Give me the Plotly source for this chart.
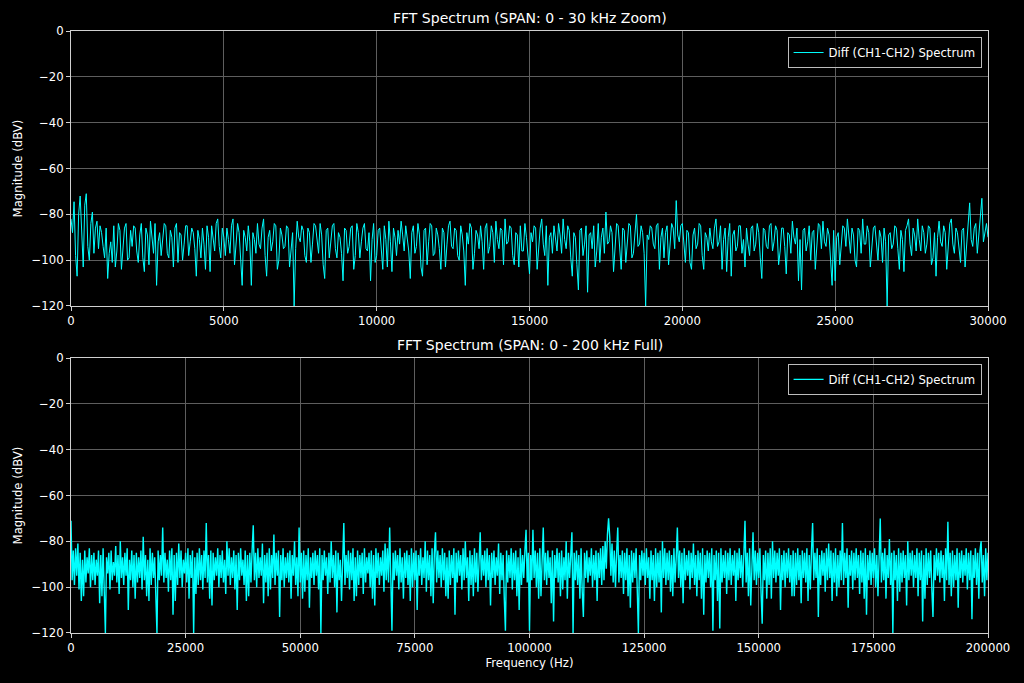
import plotly.graph_objects as go
from plotly.subplots import make_subplots

# ---------------- data ----------------
zoom_step_hz = 50
zoom_db = [
    -82, -88, -74.5, -98, -107, -80, -72, -90, -103, -76, -71, -94, -100, -84, -79, -97, -86, -83, -95, -85,
    -88, -94, -99, -86, -108, -97, -92, -101, -85, -103, -96, -84, -87, -104, -93, -86, -84, -100, -99, -87,
    -94, -85, -86, -96, -101, -89, -84, -99, -105, -86, -89, -102, -83, -90, -97, -84, -111, -92, -88, -98,
    -92, -84, -85, -97, -99, -87, -90, -103, -86, -84, -101, -88, -89, -100, -93, -85, -85, -98, -92, -86,
    -88, -95, -107, -87, -91, -99, -86, -93, -104, -85, -90, -105, -85, -92, -96, -84, -82, -94, -99, -86,
    -90, -98, -86, -91, -97, -85, -82, -102, -93, -84, -88, -100, -111, -87, -90, -96, -85, -92, -111, -88,
    -91, -97, -84, -93, -95, -86, -82, -98, -107, -90, -87, -96, -92, -84, -85, -104, -100, -86, -89, -95,
    -94, -85, -86, -103, -96, -88, -120, -95, -83, -90, -92, -85, -87, -98, -101, -86, -88, -101, -93, -84,
    -85, -92, -97, -84, -89, -102, -108, -87, -86, -99, -93, -85, -84, -95, -99, -88, -90, -97, -109, -86,
    -87, -97, -94, -86, -85, -104, -98, -84, -88, -99, -92, -86, -84, -95, -96, -88, -109, -91, -84, -101,
    -98, -87, -86, -94, -104, -85, -91, -103, -83, -92, -105, -86, -90, -98, -87, -93, -83, -89, -96, -85,
    -90, -96, -108, -88, -85, -97, -94, -84, -89, -103, -107, -87, -86, -102, -92, -84, -85, -98, -97, -86,
    -89, -95, -104, -86, -88, -103, -93, -85, -83, -94, -95, -86, -87, -98, -100, -85, -89, -96, -111, -88,
    -93, -84, -86, -104, -97, -87, -89, -95, -85, -92, -104, -86, -84, -97, -94, -85, -88, -101, -83, -91,
    -95, -86, -87, -102, -82, -93, -92, -85, -86, -98, -102, -88, -89, -103, -85, -96, -96, -84, -90, -97,
    -106, -88, -92, -85, -86, -104, -94, -86, -82, -93, -98, -85, -111, -90, -88, -97, -85, -92, -96, -84,
    -89, -97, -82, -91, -95, -85, -87, -99, -107, -88, -90, -102, -113, -87, -86, -98, -93, -85, -114, -89,
    -88, -95, -85, -103, -96, -84, -101, -90, -86, -97, -79, -93, -92, -85, -88, -105, -94, -84, -85, -96,
    -104, -86, -87, -101, -92, -84, -85, -99, -97, -88, -80, -94, -93, -85, -88, -97, -120, -89, -91, -85,
    -86, -93, -95, -85, -84, -104, -90, -86, -99, -88, -85, -102, -91, -84, -86, -95, -74, -89, -92, -85,
    -84, -93, -101, -87, -88, -101, -104, -89, -86, -95, -93, -84, -85, -98, -104, -88, -90, -96, -86, -92,
    -95, -86, -82, -94, -92, -85, -104, -91, -86, -105, -90, -84, -107, -89, -87, -96, -94, -85, -85, -97,
    -91, -103, -86, -93, -98, -86, -85, -96, -93, -84, -88, -99, -108, -86, -87, -94, -95, -85, -84, -96,
    -92, -85, -87, -102, -96, -86, -86, -94, -106, -88, -89, -97, -83, -90, -93, -86, -109, -91, -113, -87,
    -86, -96, -92, -85, -100, -88, -87, -104, -91, -84, -85, -95, -83, -92, -94, -86, -89, -98, -111, -87,
    -109, -90, -88, -102, -95, -85, -86, -94, -82, -91, -97, -86, -89, -100, -103, -86, -87, -97, -82, -93,
    -93, -85, -88, -103, -96, -86, -85, -94, -100, -87, -90, -101, -86, -92, -120, -89, -88, -95, -93, -85,
    -86, -95, -104, -87, -91, -105, -87, -85, -82, -93, -98, -86, -89, -96, -82, -91, -96, -85, -88, -97,
    -93, -85, -86, -102, -99, -88, -107, -90, -83, -92, -94, -85, -88, -104, -91, -84, -82, -93, -97, -86,
    -88, -95, -101, -87, -86, -103, -92, -84, -75, -91, -94, -86, -84, -97, -90, -83, -73, -92, -88, -84,
    -90,
]

full_step_hz = 250
full_db = [
    -71, -97, -84, -99, -83, -95, -81, -101, -85, -106, -88, -104, -84, -98, -87, -94, -83, -100, -86, -97,
    -85, -99, -88, -95, -84, -107, -86, -104, -83, -98, -120, -87, -94, -85, -101, -84, -97, -89, -95, -82,
    -98, -86, -103, -80, -96, -87, -99, -85, -95, -83, -110, -88, -97, -84, -100, -86, -105, -85, -98, -87,
    -96, -84, -101, -78, -97, -86, -104, -88, -106, -83, -99, -85, -96, -87, -100, -120, -84, -97, -86, -95,
    -74, -98, -85, -96, -88, -102, -84, -97, -83, -112, -86, -106, -85, -99, -81, -96, -84, -100, -88, -94,
    -85, -98, -83, -105, -86, -96, -84, -120, -87, -103, -85, -99, -83, -97, -86, -101, -84, -96, -72, -98,
    -86, -105, -84, -108, -85, -97, -87, -95, -83, -100, -86, -96, -84, -98, -88, -103, -80, -95, -83, -99,
    -87, -96, -84, -101, -86, -110, -85, -97, -83, -95, -88, -99, -84, -106, -86, -104, -85, -98, -84, -73,
    -97, -85, -100, -83, -96, -87, -95, -81, -107, -86, -98, -85, -104, -83, -101, -86, -96, -77, -99, -85,
    -95, -84, -113, -86, -97, -83, -100, -87, -96, -85, -98, -84, -105, -86, -95, -80, -99, -87, -104, -74,
    -98, -85, -105, -84, -102, -86, -97, -83, -109, -87, -96, -85, -99, -84, -95, -86, -101, -83, -120, -86,
    -97, -84, -95, -87, -103, -85, -98, -80, -96, -86, -100, -84, -111, -85, -97, -88, -106, -83, -72, -99,
    -86, -96, -84, -101, -85, -97, -83, -106, -87, -104, -84, -99, -86, -96, -85, -103, -83, -98, -87, -94,
    -85, -100, -84, -105, -86, -108, -83, -96, -85, -99, -87, -95, -84, -102, -81, -97, -83, -98, -74, -96,
    -119, -85, -97, -84, -95, -86, -101, -83, -98, -87, -105, -85, -96, -84, -99, -86, -106, -83, -100, -85,
    -97, -84, -110, -86, -95, -83, -99, -87, -96, -80, -102, -84, -97, -86, -104, -83, -107, -85, -76, -98,
    -84, -96, -86, -100, -83, -97, -85, -104, -87, -105, -84, -99, -86, -96, -83, -112, -85, -98, -84, -95,
    -86, -101, -83, -97, -80, -96, -87, -106, -84, -99, -86, -104, -83, -98, -85, -102, -84, -76, -97, -86,
    -95, -84, -100, -83, -97, -86, -108, -85, -96, -84, -99, -87, -95, -81, -103, -85, -97, -86, -105, -119,
    -84, -98, -86, -96, -83, -101, -85, -97, -84, -104, -87, -110, -83, -99, -86, -96, -84, -75, -98, -85,
    -119, -86, -97, -75, -96, -84, -100, -85, -105, -83, -104, -86, -74, -97, -85, -99, -84, -96, -87, -107,
    -84, -115, -86, -96, -83, -98, -85, -104, -84, -101, -87, -97, -80, -105, -85, -96, -86, -76, -120, -85,
    -97, -84, -99, -86, -105, -83, -102, -113, -85, -96, -84, -98, -87, -95, -83, -100, -86, -97, -84, -106,
    -85, -96, -83, -99, -82, -97, -80, -92, -77, -70, -78, -95, -81, -98, -84, -100, -85, -74, -98, -86,
    -96, -84, -103, -85, -97, -83, -104, -86, -109, -84, -98, -85, -96, -83, -101, -120, -86, -97, -84, -95,
    -85, -99, -83, -96, -87, -105, -84, -97, -86, -106, -83, -100, -85, -98, -84, -111, -80, -96, -83, -99,
    -85, -97, -84, -102, -86, -104, -83, -98, -87, -74, -96, -84, -100, -85, -107, -83, -97, -86, -95, -84,
    -101, -85, -96, -81, -99, -86, -104, -84, -97, -85, -105, -83, -112, -86, -98, -84, -96, -85, -100, -83,
    -119, -86, -97, -84, -106, -85, -118, -83, -98, -86, -96, -84, -103, -85, -97, -83, -99, -86, -95, -84,
    -106, -85, -97, -83, -96, -86, -100, -84, -71, -98, -85, -104, -83, -108, -86, -76, -97, -84, -99, -85,
    -96, -83, -102, -116, -86, -97, -84, -105, -85, -99, -83, -105, -80, -96, -84, -98, -85, -95, -83, -110,
    -86, -97, -84, -100, -85, -96, -83, -98, -86, -104, -84, -104, -85, -99, -83, -97, -86, -107, -84, -96,
    -85, -98, -83, -106, -86, -101, -84, -72, -97, -85, -96, -83, -113, -86, -99, -84, -95, -85, -102, -83,
    -97, -81, -96, -84, -106, -85, -98, -83, -104, -86, -100, -84, -97, -72, -99, -85, -96, -83, -109, -86,
    -95, -84, -101, -85, -97, -83, -96, -86, -103, -84, -98, -85, -105, -83, -112, -86, -97, -84, -99, -85,
    -96, -83, -100, -86, -104, -84, -70, -98, -85, -97, -83, -105, -86, -96, -79, -99, -85, -120, -84, -97,
    -86, -106, -83, -102, -85, -98, -84, -96, -86, -108, -80, -97, -85, -95, -84, -100, -86, -96, -83, -104,
    -85, -97, -84, -115, -86, -105, -83, -99, -85, -96, -84, -101, -113, -86, -97, -83, -95, -85, -98, -84,
    -96, -86, -106, -83, -97, -71.5, -99, -85, -104, -84, -100, -86, -97, -83, -109, -85, -96, -84, -98, -86,
    -95, -83, -101, -85, -97, -84, -114, -86, -96, -83, -99, -85, -105, -84, -80, -98, -86, -104, -83, -97,
    -85,
]

zoom_freq = [i * zoom_step_hz for i in range(len(zoom_db))]
full_freq = [i * full_step_hz for i in range(len(full_db))]

titles = ["FFT Spectrum (SPAN: 0 - 30 kHz Zoom)", "FFT Spectrum (SPAN: 0 - 200 kHz Full)"]
series_name = "Diff (CH1-CH2) Spectrum"
y_ticks = [0, -20, -40, -60, -80, -100, -120]
zoom_x_ticks = [0, 5000, 10000, 15000, 20000, 25000, 30000]
full_x_ticks = [0, 25000, 50000, 75000, 100000, 125000, 150000, 175000, 200000]

# ---------------- figure ----------------
CYAN = "#00ffff"
FG = "#ffffff"
GRID = "#5e5e5e"
FONT = "DejaVu Sans"
FS = 11.7

fig = make_subplots(rows=2, cols=1, vertical_spacing=0.0864)

fig.add_trace(go.Scatter(x=zoom_freq, y=zoom_db, mode="lines", name=series_name,
                         line=dict(color=CYAN, width=1), legend="legend"), row=1, col=1)
fig.add_trace(go.Scatter(x=full_freq, y=full_db, mode="lines", name=series_name,
                         line=dict(color=CYAN, width=1.4), legend="legend2"), row=2, col=1)

axis_common = dict(showline=True, linecolor="#d0d0d0", linewidth=1, mirror=True,
                   ticks="outside", ticklen=4, tickcolor="#d0d0d0", tickwidth=1,
                   showgrid=True, gridcolor=GRID, gridwidth=1, zeroline=False,
                   tickfont=dict(family=FONT, size=FS, color=FG))

fig.update_xaxes(**axis_common)
fig.update_yaxes(**axis_common)

fig.update_xaxes(range=[0, 30000], tickvals=zoom_x_ticks, ticktext=[str(v) for v in zoom_x_ticks], row=1, col=1)
fig.update_xaxes(range=[0, 200000], tickvals=full_x_ticks, ticktext=[str(v) for v in full_x_ticks],
                 title=dict(text="Frequency (Hz)", font=dict(family=FONT, size=FS, color=FG), standoff=4),
                 row=2, col=1)
for r in (1, 2):
    fig.update_yaxes(range=[-120, 0], tickvals=y_ticks,
                     title=dict(text="Magnitude (dBV)", font=dict(family=FONT, size=FS, color=FG), standoff=6),
                     row=r, col=1)

legend_style = dict(bgcolor="rgba(0,0,0,0.8)", bordercolor="#bdbdbd", borderwidth=1,
                    font=dict(family=FONT, size=FS, color=FG), xanchor="right", yanchor="top",
                    itemwidth=30, tracegroupgap=0)

fig.update_layout(
    width=1024, height=683,
    paper_bgcolor="#000000", plot_bgcolor="#000000",
    margin=dict(l=71, r=36, t=31, b=50),
    font=dict(family=FONT, color=FG),
    showlegend=True,
    legend=dict(x=0.993, y=0.99, **legend_style),
    legend2=dict(x=0.993, y=0.447, **legend_style),
    annotations=[
        dict(text=titles[0], xref="paper", yref="paper", x=0.5, y=1.0, yshift=3,
             xanchor="center", yanchor="bottom", showarrow=False,
             font=dict(family=FONT, size=14, color=FG)),
        dict(text=titles[1], xref="paper", yref="paper", x=0.5, y=0.4568, yshift=3,
             xanchor="center", yanchor="bottom", showarrow=False,
             font=dict(family=FONT, size=14, color=FG)),
    ],
)

fig.write_html(
    "out.html",
    config={"displayModeBar": False},
    post_script="document.body.style.margin='0';document.body.style.background='#000';"
                "document.body.style.overflow='hidden';",
)
